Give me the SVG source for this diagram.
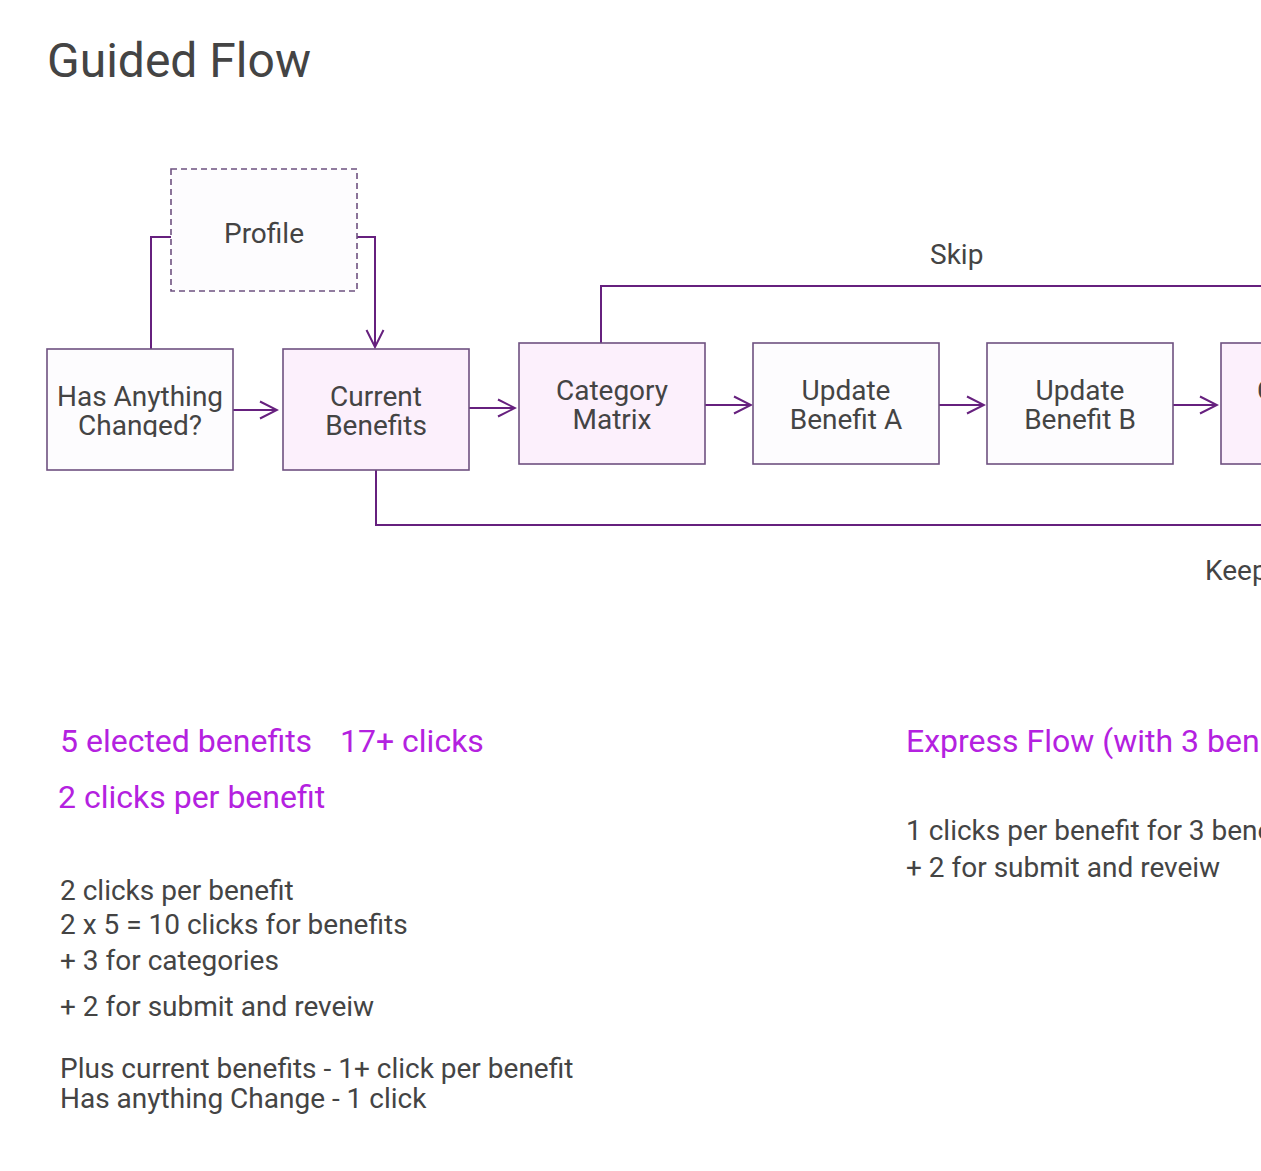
<svg xmlns="http://www.w3.org/2000/svg" width="1261" height="1171" viewBox="0 0 1261 1171">
<defs>
<style>
text{font-family:Roboto,"Liberation Sans",sans-serif;fill:#444444}
.node rect{stroke:#6e5180;stroke-width:1.6}
.plain{fill:#fdfcfe}
.pink{fill:#fcf0fc}
.nt{font-size:28px;text-anchor:middle}
.conn path{fill:none;stroke:#66207e;stroke-width:2}
.lbl{font-size:28px}
.pur{fill:#b421e0;font-size:32px}
.note{font-size:28px}
</style>
<marker id="arr" viewBox="0 0 20 20" refX="18" refY="10" markerWidth="20" markerHeight="20" markerUnits="userSpaceOnUse" orient="auto">
<path d="M1,1.5 L18,10 L1,18.5" fill="none" stroke="#66207e" stroke-width="2"/>
</marker>
<clipPath id="clipHas"><rect x="47" y="349" width="187" height="88"/></clipPath>
</defs>
<rect width="1261" height="1171" fill="#ffffff"/>
<text x="47" y="77" style="font-size:48px">Guided Flow</text>

<g class="conn">
<path d="M151,349 V237 H171"/>
<path d="M357,237 H375 V347" marker-end="url(#arr)"/>
<path d="M233,410 H277" marker-end="url(#arr)"/>
<path d="M469,408 H515" marker-end="url(#arr)"/>
<path d="M705,405 H751" marker-end="url(#arr)"/>
<path d="M939,405 H984" marker-end="url(#arr)"/>
<path d="M1173,405 H1217" marker-end="url(#arr)"/>
<path d="M601,343 V286 H1261"/>
<path d="M376,470 V525 H1261"/>
</g>
<text class="lbl" x="930" y="264">Skip</text>
<text class="lbl" x="1205" y="580">Keep</text>

<g id="profile" class="node">
<rect class="plain" x="171" y="169" width="186" height="122" stroke-dasharray="6,4"/>
<text class="nt" x="264" y="243">Profile</text>
</g>
<g id="has-anything-changed" class="node">
<rect class="plain" x="47" y="349" width="186" height="121"/>
<g clip-path="url(#clipHas)">
<text class="nt" x="140" y="406">Has Anything</text>
<text class="nt" x="140" y="435">Changed?</text>
</g>
</g>
<g id="current-benefits" class="node">
<rect class="pink" x="283" y="349" width="186" height="121"/>
<text class="nt" x="376" y="406">Current</text>
<text class="nt" x="376" y="435">Benefits</text>
</g>
<g id="category-matrix" class="node">
<rect class="pink" x="519" y="343" width="186" height="121"/>
<text class="nt" x="612" y="400">Category</text>
<text class="nt" x="612" y="429">Matrix</text>
</g>
<g id="update-benefit-a" class="node">
<rect class="plain" x="753" y="343" width="186" height="121"/>
<text class="nt" x="846" y="400">Update</text>
<text class="nt" x="846" y="429">Benefit A</text>
</g>
<g id="update-benefit-b" class="node">
<rect class="plain" x="987" y="343" width="186" height="121"/>
<text class="nt" x="1080" y="400">Update</text>
<text class="nt" x="1080" y="429">Benefit B</text>
</g>
<g id="next-node" class="node">
<rect class="pink" x="1221" y="343" width="186" height="121"/>
<text style="font-size:28px" x="1257" y="400">C</text>
</g>

<text class="pur" x="60" y="752">5 elected benefits</text>
<text class="pur" x="340" y="752">17+ clicks</text>
<text class="pur" x="58" y="808">2 clicks per benefit</text>
<text class="note" x="60" y="900">2 clicks per benefit</text>
<text class="note" x="60" y="934">2 x 5 = 10 clicks for benefits</text>
<text class="note" x="60" y="970">+ 3 for categories</text>
<text class="note" x="60" y="1016">+ 2 for submit and reveiw</text>
<text class="note" x="60" y="1078">Plus current benefits - 1+ click per benefit</text>
<text class="note" x="60" y="1108">Has anything Change - 1 click</text>

<text class="pur" x="906" y="752">Express Flow (with 3 ben</text>
<text class="note" x="906" y="840">1 clicks per benefit for 3 bene</text>
<text class="note" x="906" y="877">+ 2 for submit and reveiw</text>
</svg>
